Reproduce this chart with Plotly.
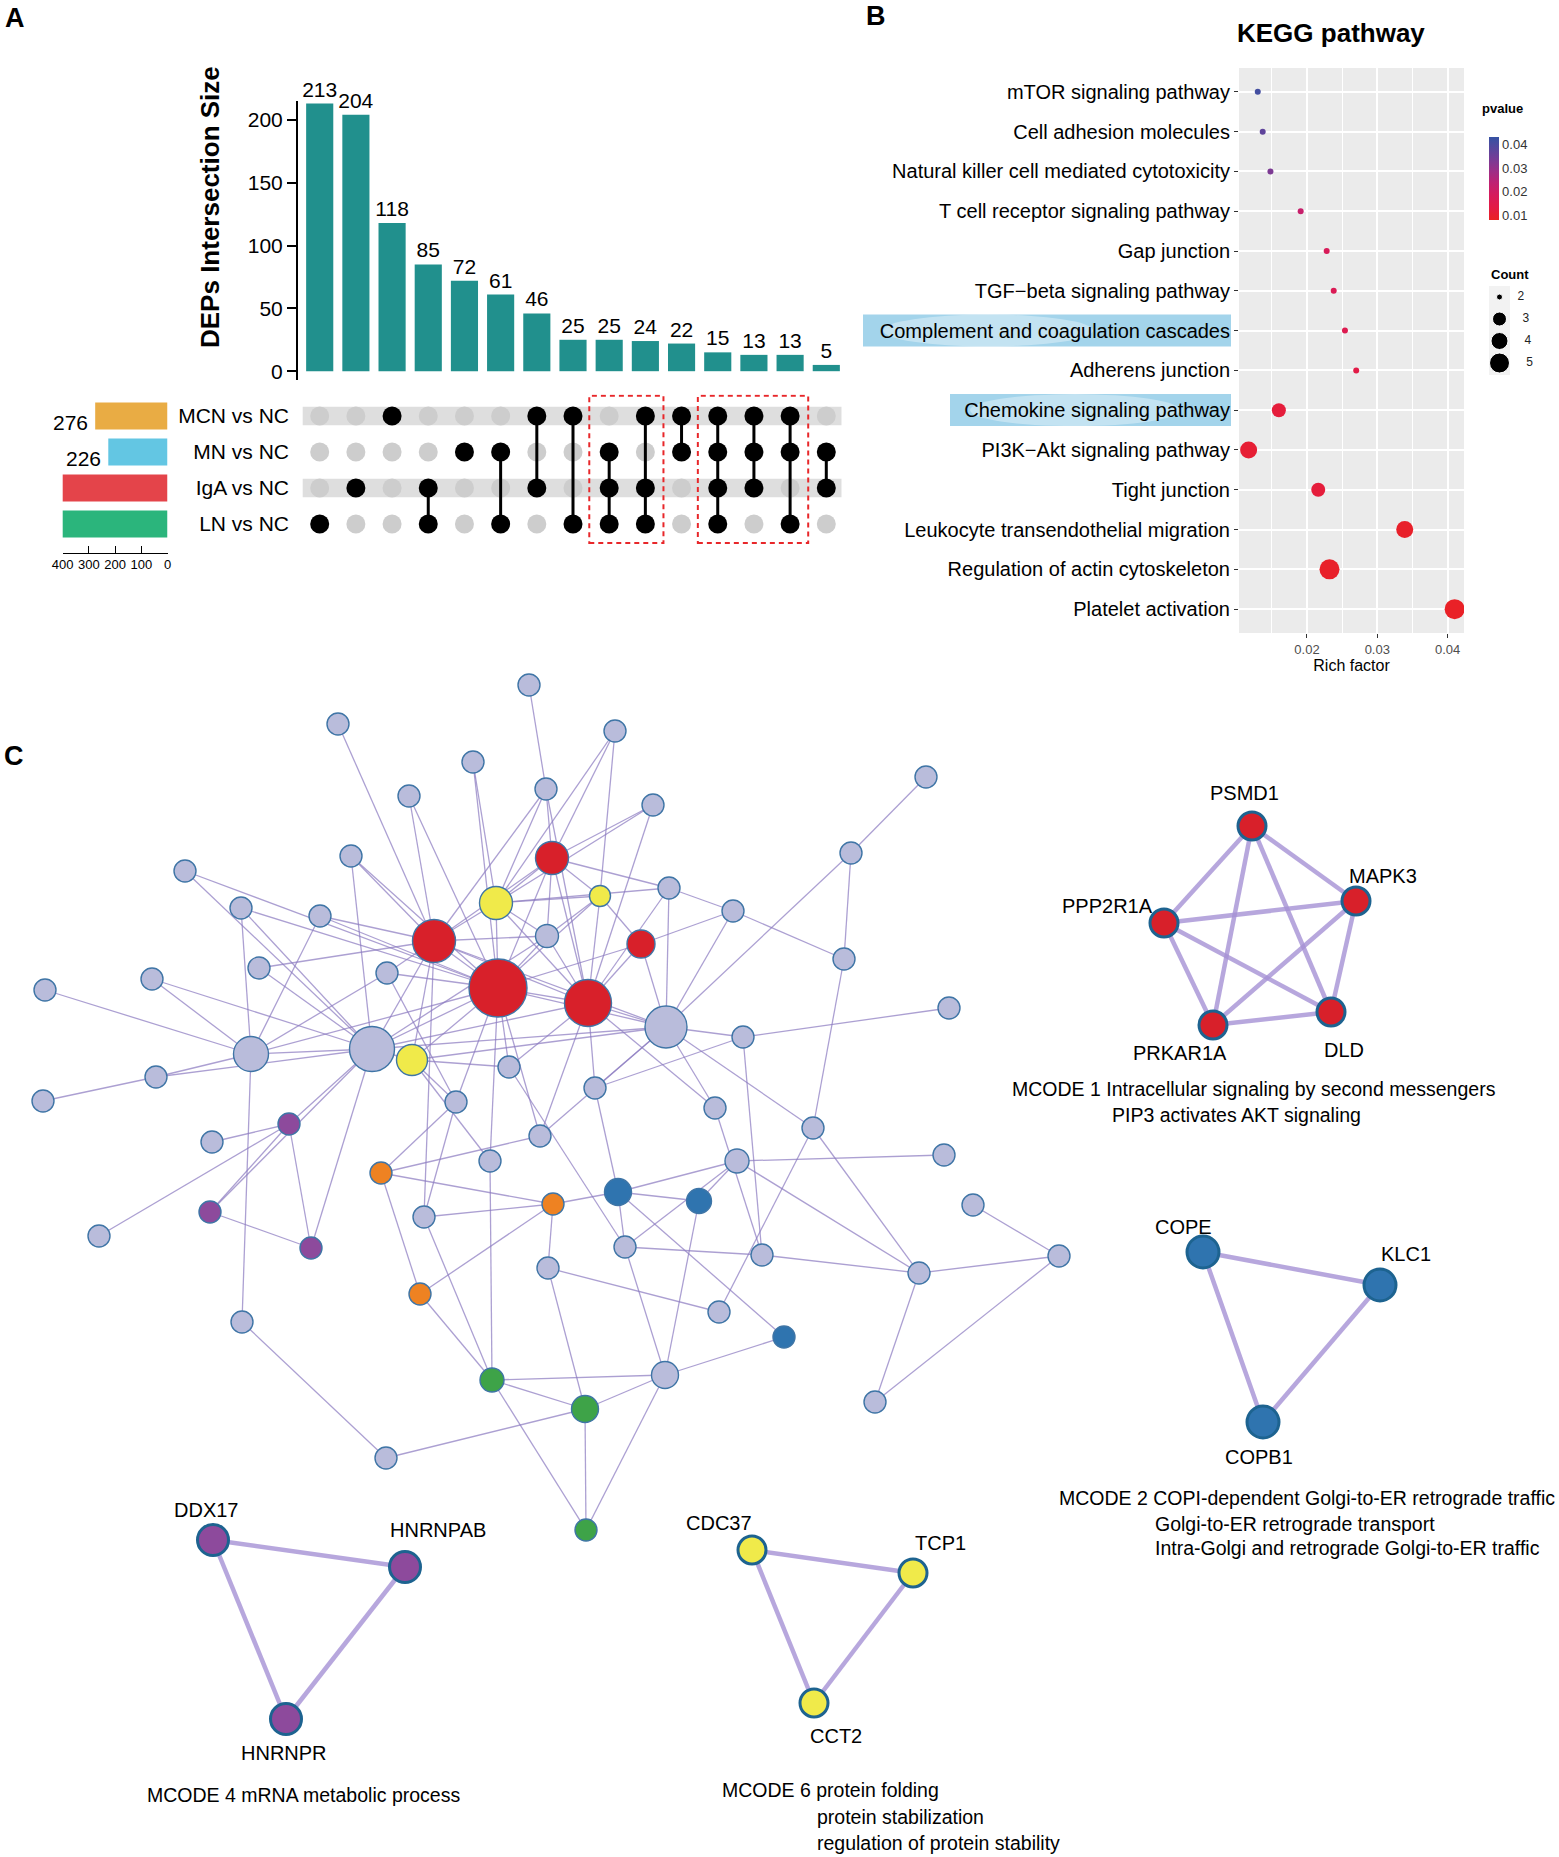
import plotly.graph_objects as go

W, H = 1559, 1857
SANS = "Liberation Sans, Arial, Helvetica, sans-serif"

# ---------------- Panel A : UpSet data ----------------
SET_NAMES = ["MCN vs NC", "MN vs NC", "IgA vs NC", "LN vs NC"]
SET_KEYS = ["MCN", "MN", "IgA", "LN"]
SET_SIZES = [276, 226, 417, 461]
SET_COLORS = ["#E9AC44", "#63C6E3", "#E4444A", "#2BB57C"]
INTERSECT_SIZES = [213, 204, 118, 85, 72, 61, 46, 25, 25, 24, 22, 15, 13, 13, 5]
INTERSECT_SETS = [
    ["LN"], ["IgA"], ["MCN"], ["IgA", "LN"], ["MN"], ["MN", "LN"], ["MCN", "IgA"],
    ["MCN", "LN"], ["MN", "IgA", "LN"], ["MCN", "IgA", "LN"], ["MCN", "MN"],
    ["MCN", "MN", "IgA", "LN"], ["MCN", "MN", "IgA"], ["MCN", "MN", "LN"], ["MN", "IgA"],
]
BOXED_COLUMNS = [[8, 9], [11, 12, 13]]
BAR_TICKS = [0, 50, 100, 150, 200]
SIZE_TICKS = [400, 300, 200, 100, 0]

# ---------------- Panel B : KEGG data ----------------
PATHWAYS = [
    "mTOR signaling pathway", "Cell adhesion molecules",
    "Natural killer cell mediated cytotoxicity", "T cell receptor signaling pathway",
    "Gap junction", "TGF\u2212beta signaling pathway", "Complement and coagulation cascades",
    "Adherens junction", "Chemokine signaling pathway", "PI3K\u2212Akt signaling pathway",
    "Tight junction", "Leukocyte transendothelial migration",
    "Regulation of actin cytoskeleton", "Platelet activation",
]
RICH_FACTOR = [0.0130, 0.0137, 0.0148, 0.0191, 0.0228, 0.0238, 0.0254, 0.0270,
               0.0160, 0.0117, 0.0216, 0.0339, 0.0232, 0.0410]
PVALUE = [0.041, 0.037, 0.033, 0.022, 0.018, 0.017, 0.016, 0.014,
          0.012, 0.011, 0.012, 0.0095, 0.0095, 0.009]
COUNT = [2, 2, 2, 2, 2, 2, 2, 2, 3, 4, 3, 4, 5, 5]
COUNT_LEVELS = [2, 3, 4, 5]
PVALUE_TICKS = [0.01, 0.02, 0.03, 0.04]
RICH_TICKS = [0.02, 0.03, 0.04]
HIGHLIGHTED = {"Complement and coagulation cascades": 863, "Chemokine signaling pathway": 950}

# ---------------- Panel C : network data ----------------
NODE_X = [529, 338, 615, 473, 409, 546, 653, 926, 351, 185, 851, 241, 320, 669, 733, 547,
          259, 387, 152, 844, 45, 666, 372, 251, 743, 509, 156, 595, 43, 456, 715, 813,
          212, 540, 490, 944, 737, 424, 973, 625, 99, 762, 548, 919, 1059, 719, 242, 665,
          875, 386, 949,
          498, 434, 588, 552, 641, 496, 600, 412, 289, 210, 311, 381, 553, 420, 618, 699,
          784, 492, 585, 586]
NODE_Y = [685, 724, 731, 762, 796, 789, 805, 777, 856, 871, 853, 908, 916, 888, 911, 936,
          968, 973, 979, 959, 990, 1027, 1049, 1054, 1037, 1067, 1077, 1088, 1101, 1102, 1108, 1128,
          1142, 1136, 1161, 1155, 1161, 1217, 1205, 1247, 1236, 1255, 1268, 1273, 1256, 1312, 1322, 1375,
          1402, 1458, 1008,
          988, 941, 1003, 858, 944, 903, 896, 1060, 1124, 1212, 1248, 1173, 1204, 1294, 1192, 1201,
          1337, 1380, 1409, 1530]
NODE_GROUP = ["none"] * 51 + ["MCODE1"] * 5 + ["MCODE6"] * 3 + ["MCODE4"] * 3 + \
             ["MCODE3"] * 3 + ["MCODE2"] * 3 + ["MCODE5"] * 3
NODE_DIAM = [22] * 15 + [23] + [22] * 5 + [42, 45, 35] + [22] * 12 + [24] + [22] * 10 + [27] + [22] * 3 + \
            [58, 43, 47, 33, 28, 33, 21, 31, 22, 22, 22, 22, 22, 22, 27, 25, 22, 24, 27, 22]
EDGES = [
    (0, 5), (1, 52), (2, 54), (2, 57), (2, 56), (3, 56), (3, 51), (4, 52), (4, 51),
    (5, 54), (5, 56), (5, 52), (5, 53), (6, 54), (6, 56), (6, 53), (7, 10),
    (8, 52), (8, 22), (8, 51), (9, 22), (9, 51), (10, 21), (10, 19),
    (11, 23), (11, 22), (11, 51), (12, 51), (12, 23), (12, 52),
    (13, 21), (13, 54), (13, 56), (13, 53), (13, 14), (14, 19), (14, 21), (14, 55),
    (15, 51), (15, 52), (15, 53), (15, 54), (15, 56), (15, 57),
    (16, 52), (16, 22), (17, 52), (17, 23), (17, 29), (17, 51), (18, 23), (18, 22), (19, 31), (20, 23),
    (21, 53), (21, 51), (21, 55), (21, 24), (21, 31), (21, 27), (21, 33),
    (22, 51), (22, 52), (22, 58), (22, 23), (22, 59), (22, 60), (22, 61), (22, 21), (22, 53), (22, 15),
    (23, 26), (23, 46), (23, 51), (24, 50), (24, 27), (24, 41),
    (25, 51), (25, 53), (25, 58), (25, 39), (26, 28), (26, 22),
    (27, 53), (27, 65), (29, 62), (29, 37), (29, 58), (29, 51),
    (30, 53), (30, 21), (30, 41), (31, 43), (31, 45), (32, 59),
    (33, 62), (33, 53), (33, 51), (34, 68), (34, 58), (34, 51),
    (35, 36), (36, 43), (36, 65), (36, 66), (36, 39), (37, 63), (37, 68), (37, 52),
    (38, 44), (39, 41), (39, 47), (39, 65), (40, 59), (41, 43), (42, 45), (42, 69), (42, 63),
    (43, 44), (43, 48), (44, 48), (46, 49), (47, 67), (47, 66), (47, 68), (47, 69), (47, 70), (49, 69),
    (59, 60), (59, 61), (60, 61), (62, 63), (62, 64), (63, 64), (63, 65), (64, 68), (65, 66), (65, 67),
    (68, 69), (68, 70), (69, 70), (52, 21), (58, 21),
    (51, 52), (51, 53), (51, 54), (51, 55), (51, 56), (51, 57), (51, 58), (52, 53), (52, 54), (52, 56),
    (52, 58), (53, 54), (53, 55), (53, 56), (53, 57), (54, 56), (54, 57), (55, 57), (56, 57),
]

MODULES = [
    dict(genes=["PSMD1", "MAPK3", "PPP2R1A", "PRKAR1A", "DLD"],
         x=[1252, 1356, 1164, 1213, 1331], y=[826, 901, 923, 1025, 1012],
         edges=[(0, 1), (0, 2), (0, 3), (0, 4), (1, 2), (1, 3), (1, 4), (2, 3), (2, 4), (3, 4)],
         group="MCODE1"),
    dict(genes=["COPE", "KLC1", "COPB1"], x=[1203, 1380, 1263], y=[1252, 1285, 1422],
         edges=[(0, 1), (0, 2), (1, 2)], group="MCODE2"),
    dict(genes=["DDX17", "HNRNPAB", "HNRNPR"], x=[213, 405, 286], y=[1540, 1567, 1719],
         edges=[(0, 1), (0, 2), (1, 2)], group="MCODE4"),
    dict(genes=["CDC37", "TCP1", "CCT2"], x=[752, 913, 814], y=[1550, 1573, 1703],
         edges=[(0, 1), (0, 2), (1, 2)], group="MCODE6"),
]
MODULE_TERMS = {
    "MCODE1": ["MCODE 1 Intracellular signaling by second messengers", "PIP3 activates AKT signaling"],
    "MCODE2": ["MCODE 2 COPI-dependent Golgi-to-ER retrograde traffic", "Golgi-to-ER retrograde transport",
               "Intra-Golgi and retrograde Golgi-to-ER traffic"],
    "MCODE4": ["MCODE 4 mRNA metabolic process"],
    "MCODE6": ["MCODE 6 protein folding", "protein stabilization", "regulation of protein stability"],
}

# ---------------- styles ----------------
GROUP_COLOR = {"none": "#B9BCDB", "MCODE1": "#D8202A", "MCODE2": "#2F74AF", "MCODE3": "#EE8222",
               "MCODE4": "#8D4A9C", "MCODE5": "#3EA348", "MCODE6": "#F0EA4A"}
MODULE_DIAM = {"MCODE1": 28, "MCODE2": 32, "MCODE4": 31, "MCODE6": 28}
LABEL_OFFSETS = {
    "PSMD1": (-8, -33), "MAPK3": (27, -25), "PPP2R1A": (-57, -17), "PRKAR1A": (-33, 28), "DLD": (13, 38),
    "COPE": (-20, -25), "KLC1": (26, -31), "COPB1": (-4, 35),
    "DDX17": (-7, -30), "HNRNPAB": (33, -37), "HNRNPR": (-2, 34),
    "CDC37": (-33, -27), "TCP1": (27, -30), "CCT2": (22, 33),
}
TERM_ANCHORS = {
    "MCODE1": [(1254, 1089, "center"), (1236, 1115, "center")],
    "MCODE2": [(1307, 1498, "center"), (1153, 1524, "left"), (1153, 1548, "left")],
    "MCODE4": [(303, 1795, "center")],
    "MCODE6": [(720, 1790, "left"), (815, 1817, "left"), (815, 1843, "left")],
}
COUNT_PX = {2: 6, 3: 14, 4: 17, 5: 20}


def fx(px):
    return px / W


def fy(py):
    return 1 - py / H


fig = go.Figure()
shapes, annotations = [], []

# ---- Panel A: intersection bars ----
cols = list(range(len(INTERSECT_SIZES)))
fig.add_trace(go.Bar(x=cols, y=INTERSECT_SIZES, marker=dict(color="#21908D", line=dict(width=0)),
                     width=0.75, text=[str(v) for v in INTERSECT_SIZES], textposition="outside",
                     textfont=dict(size=21, color="black"), constraintext="none", cliponaxis=False,
                     xaxis="x", yaxis="y", hoverinfo="skip"))

# ---- Panel A: matrix ----
ROW = {k: len(SET_KEYS) - 1 - i for i, k in enumerate(SET_KEYS)}
gx, gy, bx, by, lx, ly = [], [], [], [], [], []
for j, members in enumerate(INTERSECT_SETS):
    for k in SET_KEYS:
        if k in members:
            bx.append(j); by.append(ROW[k])
        else:
            gx.append(j); gy.append(ROW[k])
    if len(members) > 1:
        rows = [ROW[m] for m in members]
        lx += [j, j, None]; ly += [min(rows), max(rows), None]
for k in ["MCN", "IgA"]:
    r = ROW[k]
    shapes.append(dict(type="rect", xref="x2", yref="y2", x0=-0.47, x1=len(cols) - 0.58,
                       y0=r - 0.26, y1=r + 0.26, fillcolor="#DEDEDE", line=dict(width=0), layer="below"))
fig.add_trace(go.Scatter(x=gx, y=gy, mode="markers", marker=dict(size=19, color="#CDCDCD", opacity=1),
                         xaxis="x2", yaxis="y2", hoverinfo="skip"))
fig.add_trace(go.Scatter(x=lx, y=ly, mode="lines", line=dict(color="black", width=3),
                         xaxis="x2", yaxis="y2", hoverinfo="skip"))
fig.add_trace(go.Scatter(x=bx, y=by, mode="markers", marker=dict(size=19, color="black", opacity=1),
                         xaxis="x2", yaxis="y2", hoverinfo="skip"))
for grp in BOXED_COLUMNS:
    shapes.append(dict(type="rect", xref="x2", yref="y2", x0=min(grp) - 0.55, x1=max(grp) + 0.5,
                       y0=-0.53, y1=3.56, line=dict(color="#E8272A", width=2, dash="5px,4px"),
                       fillcolor="rgba(0,0,0,0)", layer="above"))

# ---- Panel A: set sizes ----
fig.add_trace(go.Bar(x=SET_SIZES, y=[ROW[k] for k in SET_KEYS], orientation="h", width=0.75,
                     marker=dict(color=SET_COLORS, line=dict(width=0)), xaxis="x3", yaxis="y3",
                     cliponaxis=False, hoverinfo="skip"))
for k, v in zip(SET_KEYS, SET_SIZES):
    annotations.append(dict(x=v, y=ROW[k], xref="x3", yref="y3", text=str(v), showarrow=False,
                            xanchor="right", yanchor="middle", xshift=-5, yshift=-7,
                            font=dict(size=21, color="black")))

# ---- Panel B: KEGG dot plot ----
shapes.append(dict(type="rect", xref="x4 domain", yref="y4 domain", x0=0, x1=1, y0=0, y1=1,
                   fillcolor="#EBEBEB", line=dict(width=0), layer="below"))
for name, left in HIGHLIGHTED.items():
    i = PATHWAYS.index(name)
    cy = 91.7 + 39.8 * i
    shapes.append(dict(type="rect", xref="paper", yref="paper", x0=fx(left), x1=fx(1231),
                       y0=fy(cy + 16), y1=fy(cy - 16), fillcolor="#A3D4EB", line=dict(width=0),
                       layer="below"))
    shapes.append(dict(type="circle", xref="paper", yref="paper", x0=fx(left + 20), x1=fx(left + 230),
                       y0=fy(cy + 16), y1=fy(cy - 16), fillcolor="rgba(255,255,255,0.35)",
                       line=dict(width=0), layer="below"))
PV_SCALE = [[0.0, "#EA2222"], [0.15, "#E31B45"], [0.3, "#D61B5C"], [0.45, "#BE2173"],
            [0.6, "#9A2F88"], [0.75, "#733D97"], [0.9, "#4E4A9E"], [1.0, "#3552A3"]]
fig.add_trace(go.Scatter(
    x=RICH_FACTOR, y=PATHWAYS, mode="markers", xaxis="x4", yaxis="y4", hoverinfo="skip",
    marker=dict(size=[COUNT_PX[c] for c in COUNT], color=PVALUE, colorscale=PV_SCALE, opacity=1,
                cmin=0.0083, cmax=0.0429, line=dict(width=0),
                colorbar=dict(x=fx(1489), xanchor="left", y=fy(178.5), yanchor="middle",
                              len=83, lenmode="pixels", thickness=10, thicknessmode="pixels",
                              xpad=0, ypad=0, outlinewidth=0, tickvals=PVALUE_TICKS,
                              ticktext=[f"{t:.2f}" for t in PVALUE_TICKS], ticks="",
                              tickfont=dict(size=13, color="#333333"))),
))
annotations.append(dict(x=1480, y=108, xref="x5", yref="y5", text="<b>pvalue</b>", showarrow=False,
                        xanchor="left", yanchor="middle", font=dict(size=13)))
annotations.append(dict(x=1489, y=274, xref="x5", yref="y5", text="<b>Count</b>", showarrow=False,
                        xanchor="left", yanchor="middle", font=dict(size=13)))
shapes.append(dict(type="rect", xref="paper", yref="paper", x0=fx(1489), x1=fx(1510),
                   y0=fy(375), y1=fy(286), fillcolor="#F2F2F2", line=dict(width=0), layer="below"))
leg_y = [297 + 22 * i for i in range(len(COUNT_LEVELS))]
fig.add_trace(go.Scatter(x=[1499.5] * len(COUNT_LEVELS), y=leg_y, mode="markers+text",
                         marker=dict(size=[COUNT_PX[c] for c in COUNT_LEVELS], color="black", opacity=1),
                         text=[f"    {c}" for c in COUNT_LEVELS], textposition="middle right",
                         textfont=dict(size=12, color="#222222"),
                         xaxis="x5", yaxis="y5", hoverinfo="skip"))
annotations.append(dict(x=1331, y=33, xref="x5", yref="y5", text="<b>KEGG pathway</b>", showarrow=False,
                        xanchor="center", yanchor="middle", font=dict(size=26)))

# ---- Panel C: network ----
ex, ey = [], []
for a, b in EDGES:
    ex += [NODE_X[a], NODE_X[b], None]
    ey += [NODE_Y[a], NODE_Y[b], None]
fig.add_trace(go.Scatter(x=ex, y=ey, mode="lines", line=dict(color="rgba(140,124,192,0.72)", width=1.3),
                         xaxis="x5", yaxis="y5", hoverinfo="skip"))
fig.add_trace(go.Scatter(x=NODE_X, y=NODE_Y, mode="markers", xaxis="x5", yaxis="y5", hoverinfo="skip",
                         marker=dict(size=NODE_DIAM, color=[GROUP_COLOR[g] for g in NODE_GROUP], opacity=1,
                                     line=dict(color="#3F75A6", width=1.4))))

for m in MODULES:
    mx, my = [], []
    for a, b in m["edges"]:
        mx += [m["x"][a], m["x"][b], None]
        my += [m["y"][a], m["y"][b], None]
    fig.add_trace(go.Scatter(x=mx, y=my, mode="lines", line=dict(color="rgba(165,145,212,0.8)", width=4.5),
                             xaxis="x5", yaxis="y5", hoverinfo="skip"))
    fig.add_trace(go.Scatter(x=m["x"], y=m["y"], mode="markers", xaxis="x5", yaxis="y5", hoverinfo="skip",
                             marker=dict(size=MODULE_DIAM[m["group"]], color=GROUP_COLOR[m["group"]], opacity=1,
                                         line=dict(color="#1D6390", width=3))))
    for g, x, y in zip(m["genes"], m["x"], m["y"]):
        dx, dy = LABEL_OFFSETS[g]
        annotations.append(dict(x=x + dx, y=y + dy, xref="x5", yref="y5", text=g, showarrow=False,
                                xanchor="center", yanchor="middle", font=dict(size=20, color="black")))
    for line, (tx, ty, al) in zip(MODULE_TERMS[m["group"]], TERM_ANCHORS[m["group"]]):
        annotations.append(dict(x=tx, y=ty, xref="x5", yref="y5", text=line, showarrow=False,
                                xanchor=al, yanchor="middle", font=dict(size=19.5, color="black")))

# ---- text: panel letters & axis title ----
for letter, (x, y) in {"A": (3, 18), "B": (864, 16), "C": (2, 756)}.items():
    annotations.append(dict(x=x, y=y, xref="x5", yref="y5", text=f"<b>{letter}</b>", showarrow=False,
                            xanchor="left", yanchor="middle", font=dict(size=27, color="black")))
annotations.append(dict(x=210, y=207, xref="x5", yref="y5", text="<b>DEPs Intersection Size</b>",
                        textangle=-90, showarrow=False, xanchor="center", yanchor="middle",
                        font=dict(size=26, color="black")))

hidden = dict(visible=False, showgrid=False, zeroline=False, automargin=False)
fig.update_layout(
    template="none",
    width=W, height=H, autosize=False, margin=dict(l=0, r=0, t=0, b=0, pad=0, autoexpand=False),
    paper_bgcolor="white", plot_bgcolor="rgba(0,0,0,0)", showlegend=False,
    font=dict(family=SANS, color="black"),
    xaxis=dict(domain=[fx(298), fx(848)], range=[-0.6, 14.6], anchor="y", **hidden),
    yaxis=dict(domain=[fy(380), fy(101)], range=[-7, 215], anchor="x", showline=True, linecolor="black",
               linewidth=2, ticks="outside", ticklen=9, tickwidth=1.5, tickcolor="black",
               tickvals=BAR_TICKS, tickfont=dict(size=21), showgrid=False, zeroline=False, automargin=False),
    xaxis2=dict(domain=[fx(298), fx(848)], range=[-0.6, 14.6], anchor="y2", **hidden),
    yaxis2=dict(domain=[fy(545.6), fy(394.4)], range=[-0.6, 3.6], anchor="x2", showgrid=False,
                zeroline=False, tickvals=[ROW[k] for k in SET_KEYS], ticktext=SET_NAMES, ticks="",
                showline=False, tickfont=dict(size=21), ticklabelstandoff=8, automargin=False),
    xaxis3=dict(domain=[fx(62.7), fx(167.5)], range=[400, 0], anchor="y3", showline=True, linecolor="black",
                linewidth=1, ticks="inside", ticklen=7, tickcolor="black", tickvals=SIZE_TICKS,
                tickfont=dict(size=13), showgrid=False, zeroline=False, automargin=False),
    yaxis3=dict(domain=[fy(552.8), fy(398)], range=[-0.8, 3.5], anchor="x3", **hidden),
    xaxis4=dict(domain=[fx(1239), fx(1464)], range=[0.01033, 0.04233], anchor="y4",
                tickvals=RICH_TICKS, ticktext=[f"{t:.2f}" for t in RICH_TICKS],
                tickfont=dict(size=13, color="#4D4D4D"), ticks="outside", ticklen=4, tickcolor="#333333",
                showgrid=True, gridcolor="white", gridwidth=1.6, zeroline=False, showline=False,
                minor=dict(tickvals=[0.015, 0.025, 0.035], showgrid=True, gridcolor="white", gridwidth=0.8,
                           ticks=""),
                title=dict(text="Rich factor", font=dict(size=16, color="black"), standoff=4),
                automargin=False),
    yaxis4=dict(domain=[fy(633), fy(68)], type="category", categoryorder="array",
                categoryarray=PATHWAYS[::-1], range=[-0.6, len(PATHWAYS) - 0.4], anchor="x4",
                tickfont=dict(size=20, color="black"), ticks="outside", ticklen=4, tickcolor="#333333",
                showgrid=True, gridcolor="white", gridwidth=1.6, zeroline=False, showline=False,
                automargin=False),
    xaxis5=dict(domain=[0, 1], range=[0, W], anchor="y5", **hidden),
    yaxis5=dict(domain=[0, 1], range=[H, 0], anchor="x5", **hidden),
    shapes=shapes, annotations=annotations,
)

fig.write_html("out.html", config={"displayModeBar": False},
               post_script="document.body.style.margin='0';document.body.style.overflow='hidden';")
